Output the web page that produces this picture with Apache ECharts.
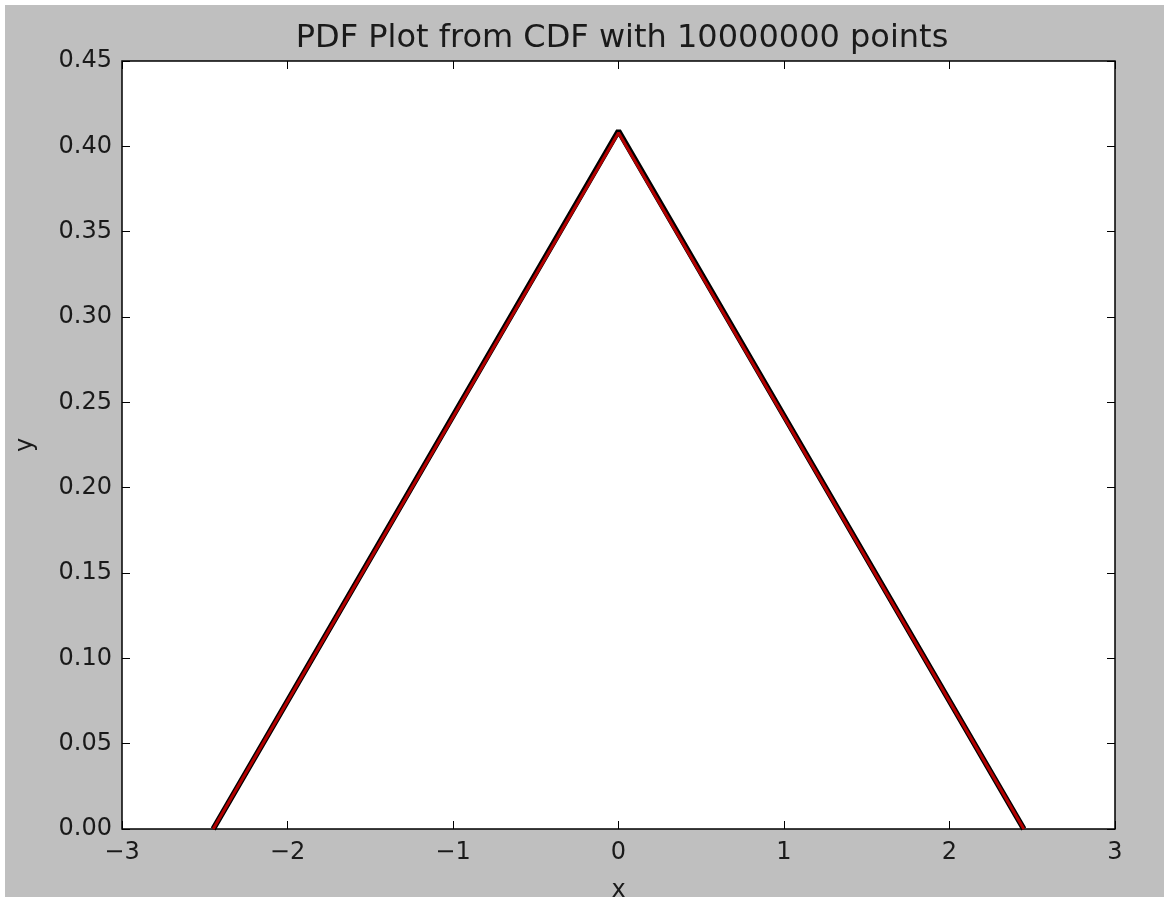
<!DOCTYPE html>
<html>
<head>
<meta charset="utf-8">
<script src="https://cdn.jsdelivr.net/npm/echarts@6/dist/echarts.min.js"></script>
<style>
html,body{margin:0;padding:0;background:#ffffff;}
#chart{position:absolute;left:5px;top:5px;width:1159px;height:892px;background:#bfbfbf;}
</style>
</head>
<body>
<div id="chart"></div>
<script>
const titleText = 'PDF Plot from CDF with 10000000 points';
const xLabel = 'x';
const yLabel = 'y';
// sampled PDF points (black) and reference PDF (red)
const xValues = [-2.449, 0, 2.449];
const pdfSampled = [0, 0.409, 0];
const pdfTrue = [0, 0.408, 0];
const xTicks = [-3, -2, -1, 0, 1, 2, 3];
const yTicks = [0, 0.05, 0.10, 0.15, 0.20, 0.25, 0.30, 0.35, 0.40, 0.45];

const font = 'DejaVu Sans';
const chart = echarts.init(document.getElementById('chart'), null, {renderer: 'canvas'});

const commonX = {
  type: 'value', min: xTicks[0], max: xTicks[xTicks.length - 1], interval: 1,
  splitLine: {show: false},
  axisLine: {show: false, onZero: false},
  axisTick: {show: true, inside: true, length: 8, lineStyle: {color: '#000', width: 1}}
};
const commonY = {
  type: 'value', min: yTicks[0], max: yTicks[yTicks.length - 1], interval: 0.05,
  splitLine: {show: false},
  axisLine: {show: false, onZero: false},
  axisTick: {show: true, inside: true, length: 8, lineStyle: {color: '#000', width: 1}}
};

chart.setOption({
  animation: false,
  title: {
    text: titleText, left: 612, textAlign: 'center', top: 13,
    textStyle: {fontFamily: font, fontSize: 32, fontWeight: 'normal', color: '#1a1a1a'}
  },
  grid: {
    left: 117, top: 56, right: 49, bottom: 68,
    outerBoundsMode: 'none', containLabel: false,
    show: true, backgroundColor: '#ffffff', borderColor: '#000', borderWidth: 1.5
  },
  xAxis: [
    Object.assign({}, commonX, {
      position: 'bottom',
      name: xLabel, nameLocation: 'middle', nameGap: 50,
      nameTextStyle: {fontFamily: font, fontSize: 24, color: '#1a1a1a'},
      axisLabel: {
        fontFamily: font, fontSize: 24, color: '#1a1a1a', margin: 12,
        formatter: v => (v < 0 ? '\u2212' + Math.abs(v) : String(v))
      }
    }),
    Object.assign({}, commonX, {position: 'top', axisLabel: {show: false}})
  ],
  yAxis: [
    Object.assign({}, commonY, {
      position: 'left',
      name: yLabel, nameLocation: 'middle', nameGap: 84,
      nameTextStyle: {fontFamily: font, fontSize: 24, color: '#1a1a1a'},
      axisLabel: {
        fontFamily: font, fontSize: 24, color: '#1a1a1a', margin: 10,
        formatter: v => v.toFixed(2)
      }
    }),
    Object.assign({}, commonY, {position: 'right', axisLabel: {show: false}})
  ],
  series: [
    {
      type: 'line', name: 'sampled', xAxisIndex: 0, yAxisIndex: 0,
      data: xValues.map((x, i) => [x, pdfSampled[i]]),
      showSymbol: false, lineStyle: {color: '#000000', width: 5.5}, z: 2
    },
    {
      type: 'line', name: 'true', xAxisIndex: 0, yAxisIndex: 0,
      data: xValues.map((x, i) => [x, pdfTrue[i]]),
      showSymbol: false, lineStyle: {color: '#b40000', width: 3}, z: 3
    }
  ]
});
</script>
</body>
</html>
